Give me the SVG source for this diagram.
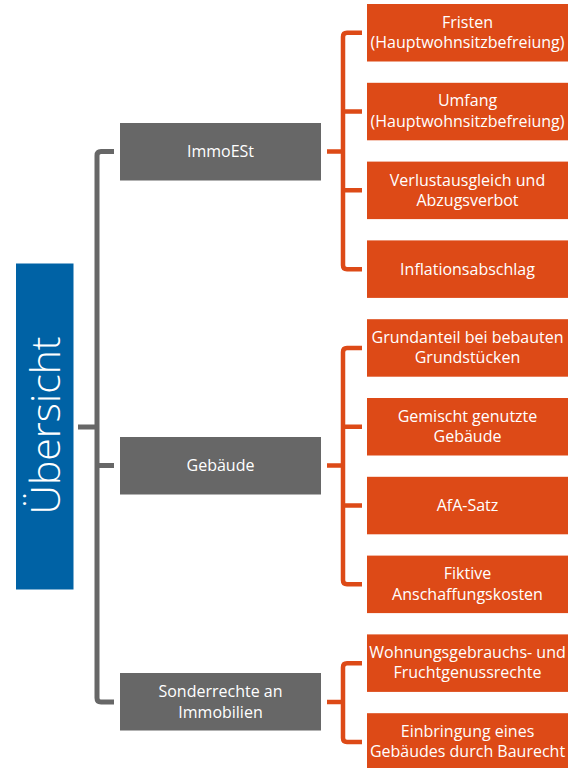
<svg xmlns="http://www.w3.org/2000/svg" width="570" height="768" viewBox="0 0 570 768">
<style>
.o{fill:#DD4A17}
.g{fill:#676767}
.t{fill:#fff;font-family:"Open Sans","Liberation Sans",sans-serif;font-size:16px;text-anchor:middle}
.cg{fill:none;stroke:#676767;stroke-width:5}
.co{fill:none;stroke:#DD4A17;stroke-width:4.5}
</style>
<rect width="570" height="768" fill="#fff"/>
<g id="connectors">
<path class="cg" d="M78,427 H97 M114,151.5 H101 Q97,151.5 97,155.5 V698 Q97,702 101,702 H114 M97,465.5 H114"/>
<path class="co" d="M327,151.5 H343 M362,32.75 H347 Q343,32.75 343,36.75 V265.15 Q343,269.15 347,269.15 H362 M343,111.55 H362 M343,190.35 H362"/>
<path class="co" d="M327,465.5 H343 M362,348 H347 Q343,348 343,352 V580.35 Q343,584.35 347,584.35 H362 M343,426.75 H362 M343,505.55 H362"/>
<path class="co" d="M327,702 H343 M362,663.15 H347 Q343,663.15 343,667.15 V737.95 Q343,741.95 347,741.95 H362"/>
</g>
<g id="uebersicht">
<rect x="16" y="263.5" width="57.5" height="326" fill="#0062A5"/>
<text transform="translate(60,425.5) rotate(-90)" style="fill:#fff;font-family:'Open Sans','Liberation Sans',sans-serif;font-size:41px;font-weight:300;text-anchor:middle">Übersicht</text>
</g>
<g id="immoest">
<rect class="g" x="120" y="123" width="201" height="57.5"/>
<text class="t" x="220.5" y="157">ImmoESt</text>
</g>
<g id="gebaeude">
<rect class="g" x="120" y="437" width="201" height="57.5"/>
<text class="t" x="220.5" y="471">Gebäude</text>
</g>
<g id="sonderrechte">
<rect class="g" x="120" y="673" width="201" height="57.5"/>
<text class="t" x="220.5" y="697">Sonderrechte an</text>
<text class="t" x="220.5" y="717.5">Immobilien</text>
</g>
<g id="fristen">
<rect class="o" x="367" y="4" width="201" height="57.5"/>
<text class="t" x="467.5" y="27.5">Fristen</text>
<text class="t" x="467.5" y="48">(Hauptwohnsitzbefreiung)</text>
</g>
<g id="umfang">
<rect class="o" x="367" y="82.8" width="201" height="57.5"/>
<text class="t" x="467.5" y="106.3">Umfang</text>
<text class="t" x="467.5" y="126.8">(Hauptwohnsitzbefreiung)</text>
</g>
<g id="verlust">
<rect class="o" x="367" y="161.6" width="201" height="57.5"/>
<text class="t" x="467.5" y="185.6">Verlustausgleich und</text>
<text class="t" x="467.5" y="206.1">Abzugsverbot</text>
</g>
<g id="inflation">
<rect class="o" x="367" y="240.4" width="201" height="57.5"/>
<text class="t" x="467.5" y="274.9">Inflationsabschlag</text>
</g>
<g id="grundanteil">
<rect class="o" x="367" y="319.2" width="201" height="57.5"/>
<text class="t" x="467.5" y="342.7">Grundanteil bei bebauten</text>
<text class="t" x="467.5" y="363.2">Grundstücken</text>
</g>
<g id="gemischt">
<rect class="o" x="367" y="398" width="201" height="57.5"/>
<text class="t" x="467.5" y="421.5">Gemischt genutzte</text>
<text class="t" x="467.5" y="442">Gebäude</text>
</g>
<g id="afa">
<rect class="o" x="367" y="476.8" width="201" height="57.5"/>
<text class="t" x="467.5" y="511.3">AfA-Satz</text>
</g>
<g id="fiktive">
<rect class="o" x="367" y="555.6" width="201" height="57.5"/>
<text class="t" x="467.5" y="579.1">Fiktive</text>
<text class="t" x="467.5" y="599.6">Anschaffungskosten</text>
</g>
<g id="wohnungs">
<rect class="o" x="367" y="634.4" width="201" height="57.5"/>
<text class="t" x="467.5" y="657.9">Wohnungsgebrauchs- und</text>
<text class="t" x="467.5" y="678.4">Fruchtgenussrechte</text>
</g>
<g id="einbringung">
<rect class="o" x="367" y="713.2" width="201" height="57.5"/>
<text class="t" x="467.5" y="736.7">Einbringung eines</text>
<text class="t" x="467.5" y="757.2">Gebäudes durch Baurecht</text>
</g>
</svg>
